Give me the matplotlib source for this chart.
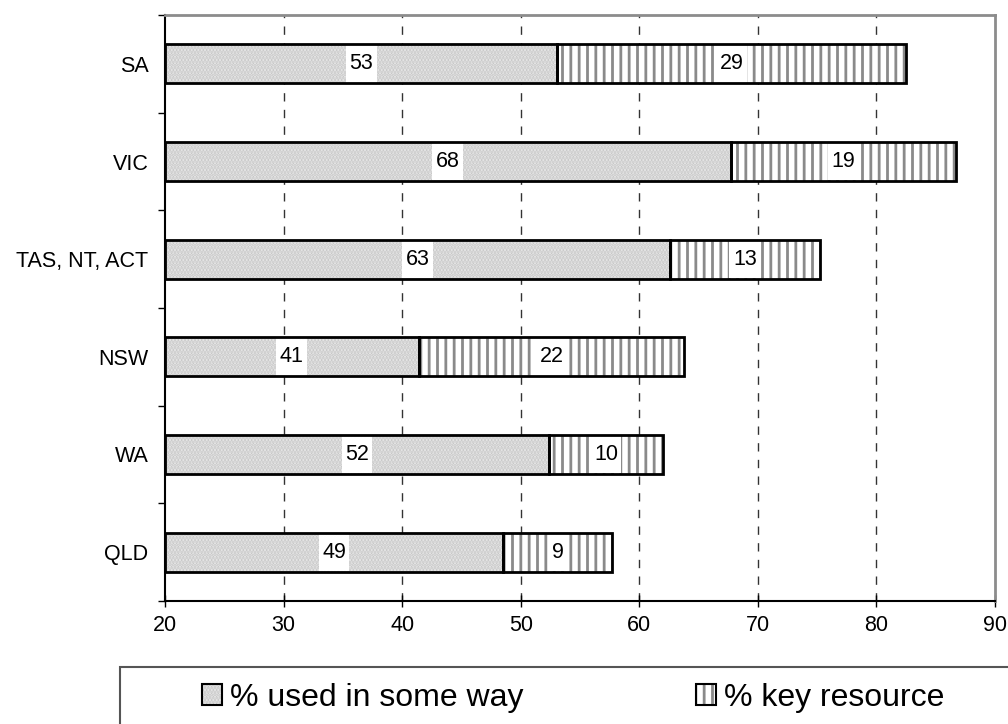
import matplotlib
matplotlib.use('Agg')
import matplotlib.pyplot as plt
from matplotlib.patches import Rectangle, Patch
import numpy as np

plt.rcParams['font.family'] = ['Liberation Sans', 'DejaVu Sans']
plt.rcParams['hatch.linewidth'] = 2.0

# Data, listed bottom to top as drawn
regions      = ['QLD', 'WA', 'NSW', 'TAS, NT, ACT', 'VIC', 'SA']
used_some    = [48.5, 52.4, 41.4, 62.6, 67.7, 53.1]
key_resource = [9.2, 9.6, 22.4, 12.6, 19.0, 29.4]
series_names = ['% used in some way', '% key resource']
x_ticks      = [20, 30, 40, 50, 60, 70, 80, 90]

x_start = 20
x_end   = 90
bar_h   = 0.4
px_per_unit = 830 / 70.0
font_size = 15.5

dot_face  = '#ebebeb'
dot_hatch = '#c8c8c8'
line_hatch = '#8a8a8a'

fig = plt.figure(figsize=(10.08, 7.24), dpi=100)
ax = fig.add_axes([165 / 1008, 1 - 601 / 724, 830 / 1008, 586 / 724])

y = np.arange(len(regions))
used = np.array(used_some)
key = np.array(key_resource)

# first series: light dotted grey
ax.barh(y, used - x_start, left=x_start, height=bar_h, color=dot_face,
        hatch='.....', edgecolor=dot_hatch, linewidth=0, zorder=2)
ax.barh(y, used - x_start, left=x_start, height=bar_h, fill=False,
        edgecolor='black', linewidth=2, zorder=5)
# second series: vertical stripes
ax.barh(y, key, left=used, height=bar_h, color='white',
        hatch='||', edgecolor=line_hatch, linewidth=0, zorder=2)
ax.barh(y, key, left=used, height=bar_h, fill=False,
        edgecolor='black', linewidth=2, zorder=5)

# value labels on white boxes
def add_labels(starts, widths, values):
	for yi, s, w, v in zip(y, starts, widths, values):
		txt = str(int(round(v + 1e-9)))
		cx = s + w / 2.0
		box_w = (6 + 12.4 * len(txt)) / px_per_unit
		ax.barh(yi, box_w, left=cx - box_w / 2.0, height=bar_h * 0.97,
				color='white', linewidth=0, zorder=4)
		ax.text(cx, yi, txt, ha='center', va='center', fontsize=font_size, zorder=6)

add_labels(np.full(len(y), x_start), used - x_start, used)
add_labels(used, key, key)

# axes
ax.set_xlim(x_start, x_end)
ax.set_ylim(-0.5, len(regions) - 0.5)
ax.set_xticks(x_ticks)
ax.set_xticklabels([str(t) for t in x_ticks], fontsize=font_size)
ax.set_yticks(y)
ax.set_yticklabels(regions, fontsize=font_size)
ax.set_yticks(np.arange(len(regions) + 1) - 0.5, minor=True)
ax.tick_params(axis='y', which='major', length=0, pad=12)
ax.tick_params(axis='y', which='minor', length=5, width=1, direction='out')
ax.tick_params(axis='x', which='major', length=8, width=1, direction='inout', pad=6)

for xv in x_ticks[1:-1]:
	ax.axvline(xv, color='#333333', linewidth=1, linestyle=(0, (6, 6)), zorder=1)

ax.spines['left'].set_linewidth(1.5)
ax.spines['bottom'].set_linewidth(1.5)
ax.spines['top'].set_color('#8c8c8c')
ax.spines['right'].set_color('#8c8c8c')
ax.spines['top'].set_linewidth(2)
ax.spines['right'].set_linewidth(2)

# legend box, cut off by the figure edge
fig.add_artist(Rectangle((120 / 1008, -0.2), 1.0, 0.2 + 1 - 667 / 724,
						 transform=fig.transFigure, fill=False,
						 edgecolor='#555555', linewidth=1.5))
outline = Patch(fill=False, edgecolor='black', linewidth=1.5)
handles = [(Patch(facecolor=dot_face, hatch='.....', edgecolor=dot_hatch, linewidth=0), outline),
		   (Patch(facecolor='white', hatch='||', edgecolor=line_hatch, linewidth=0), outline)]
fig.legend(handles, series_names, loc='center', bbox_to_anchor=(573 / 1008, 1 - 698 / 724),
		   ncol=2, frameon=False, fontsize=23, handlelength=0.63, handleheight=0.63,
		   handletextpad=0.25, columnspacing=5.4)

plt.savefig('out.png', dpi=100)
plt.close()
